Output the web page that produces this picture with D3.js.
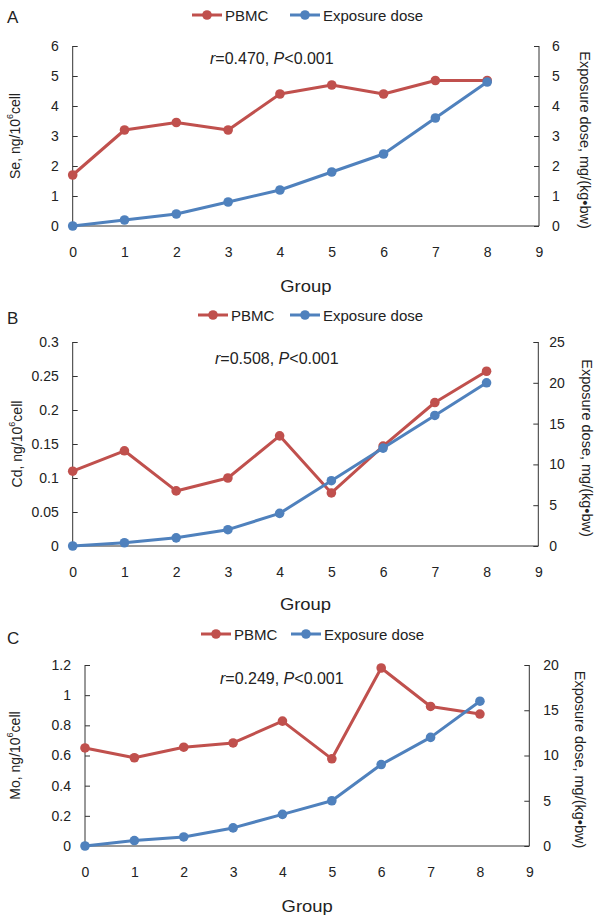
<!DOCTYPE html>
<html>
<head>
<meta charset="utf-8">
<script src="https://cdnjs.cloudflare.com/ajax/libs/d3/7.8.5/d3.min.js"></script>
<style>
  body { margin: 0; background: #fff; }
  svg text { font-family: Arial, "Liberation Sans", sans-serif; fill: #222; }
</style>
</head>
<body>
<div id="chart"></div>
<script>
// ---- data ----
var groups = [0, 1, 2, 3, 4, 5, 6, 7, 8];
var groupTicks = [0, 1, 2, 3, 4, 5, 6, 7, 8, 9];

var sePBMC = [1.7, 3.2, 3.45, 3.2, 4.4, 4.7, 4.4, 4.85, 4.85];
var seDose = [0, 0.2, 0.4, 0.8, 1.2, 1.8, 2.4, 3.6, 4.8];
var seLeftTicks = [0, 1, 2, 3, 4, 5, 6];
var seLeftLabels = ["0", "1", "2", "3", "4", "5", "6"];
var seRightTicks = [0, 1, 2, 3, 4, 5, 6];

var cdPBMC = [0.11, 0.14, 0.081, 0.1, 0.162, 0.078, 0.147, 0.211, 0.257];
var cdDose = [0, 0.4, 1, 2, 4, 8, 12, 16, 20];
var cdLeftTicks = [0, 0.05, 0.1, 0.15, 0.2, 0.25, 0.3];
var cdLeftLabels = ["0", "0.05", "0.1", "0.15", "0.2", "0.25", "0.3"];
var cdRightTicks = [0, 5, 10, 15, 20, 25];

var moPBMC = [0.65, 0.585, 0.655, 0.683, 0.828, 0.578, 1.18, 0.925, 0.875];
var moDose = [0, 0.6, 1, 2, 3.5, 5, 9, 12, 16];
var moLeftTicks = [0, 0.2, 0.4, 0.6, 0.8, 1, 1.2];
var moLeftLabels = ["0", "0.2", "0.4", "0.6", "0.8", "1", "1.2"];
var moRightTicks = [0, 5, 10, 15, 20];

var red = "#C0504D", blue = "#4F81BD";

var svg = d3.select("#chart").append("svg")
    .attr("width", 600).attr("height", 923);

function drawPanel(p) {
    var x = d3.scaleLinear().domain([0, 9]).range([p.left, p.right]);
    var yL = d3.scaleLinear().domain([0, d3.max(p.leftTicks)]).range([p.bottom, p.top]);
    var yR = d3.scaleLinear().domain([0, d3.max(p.rightTicks)]).range([p.bottom, p.top]);

    var g = svg.append("g");

    // panel letter
    g.append("text").attr("x", 7).attr("y", p.letterY)
        .attr("dominant-baseline", "central")
        .attr("font-size", "17px").text(p.letter);

    // left axis
    var la = g.append("g").attr("transform", "translate(" + p.left + ",0)")
        .call(d3.axisRight(yL).tickValues(p.leftTicks).tickSize(5)
            .tickFormat(function (d, i) { return p.leftLabels[i]; }));
    la.select(".domain").attr("d", "M0," + p.top + "V" + p.bottom);
    la.selectAll("text").attr("x", -14).attr("text-anchor", "end")
        .attr("font-size", "14px").attr("font-family", null);
    la.selectAll("line, path").attr("stroke", "#333");

    // right axis
    var ra = g.append("g").attr("transform", "translate(" + p.right + ",0)")
        .call(d3.axisLeft(yR).tickValues(p.rightTicks).tickSize(5)
            .tickFormat(d3.format("d")));
    ra.select(".domain").attr("d", "M0," + p.top + "V" + p.bottom);
    ra.selectAll("text").attr("x", p.rightLabelGap).attr("text-anchor", "start")
        .attr("font-size", "14px").attr("font-family", null);
    ra.selectAll("line, path").attr("stroke", "#333");

    // bottom axis (no tick marks)
    var ba = g.append("g").attr("transform", "translate(0," + p.bottom + ")")
        .call(d3.axisBottom(x).tickValues(groupTicks).tickSize(0).tickPadding(21));
    ba.select(".domain").attr("d", "M" + p.left + ",0H" + p.right).attr("stroke", "#333");
    ba.selectAll("text").attr("font-size", "14px").attr("font-family", null);

    // axis titles
    g.append("text")
        .attr("transform", "translate(" + (p.left + p.right) / 2 + "," + p.groupY + ") scale(1.15,1)")
        .attr("text-anchor", "middle").attr("dominant-baseline", "central")
        .attr("font-size", "16px").text("Group");

    var lt = g.append("text")
        .attr("transform", "translate(" + p.leftTitleX + "," + (p.top + p.bottom) / 2 + ") rotate(-90)")
        .attr("text-anchor", "middle").attr("dominant-baseline", "central")
        .attr("font-size", "14px");
    lt.append("tspan").text(p.element + ", ng/10");
    lt.append("tspan").attr("font-size", "9px").attr("dy", -5).text("6");
    lt.append("tspan").attr("dy", 5).text("cell");

    g.append("text")
        .attr("transform", "translate(" + p.rightTitleX + "," + ((p.top + p.bottom) / 2 + 4) + ") rotate(90)")
        .attr("text-anchor", "middle").attr("dominant-baseline", "central")
        .attr("font-size", "14.5px").text("Exposure dose, mg/(kg\u2022bw)");

    // correlation note
    var note = g.append("text").attr("x", p.noteX).attr("y", p.noteY)
        .attr("dominant-baseline", "central").attr("font-size", "16px");
    note.append("tspan").attr("font-style", "italic").text("r");
    note.append("tspan").text("=" + p.r + ", ");
    note.append("tspan").attr("font-style", "italic").text("P");
    note.append("tspan").text("<0.001");

    // series
    var series = [
        { vals: p.pbmc, y: yL, color: red },
        { vals: p.dose, y: yR, color: blue }
    ];
    series.forEach(function (s) {
        var line = d3.line()
            .x(function (d, i) { return x(groups[i]); })
            .y(function (d) { return s.y(d); });
        g.append("path").datum(s.vals)
            .attr("fill", "none").attr("stroke", s.color)
            .attr("stroke-width", 3).attr("stroke-linejoin", "round")
            .attr("d", line);
        g.selectAll(null).data(s.vals).enter().append("circle")
            .attr("cx", function (d, i) { return x(groups[i]); })
            .attr("cy", function (d) { return s.y(d); })
            .attr("r", 4.8).attr("fill", s.color);
    });

    // legend
    var legend = [
        { name: "PBMC", color: red, cx: p.legX1 },
        { name: "Exposure dose", color: blue, cx: p.legX2 }
    ];
    legend.forEach(function (l) {
        g.append("line").attr("x1", l.cx - 15).attr("x2", l.cx + 15)
            .attr("y1", p.legendY).attr("y2", p.legendY)
            .attr("stroke", l.color).attr("stroke-width", 3);
        g.append("circle").attr("cx", l.cx).attr("cy", p.legendY)
            .attr("r", 4.8).attr("fill", l.color);
        g.append("text").attr("x", l.cx + 18).attr("y", p.legendY)
            .attr("dominant-baseline", "central").attr("font-size", "15px")
            .text(l.name);
    });
}

drawPanel({
    letter: "A", letterY: 17, element: "Se", r: "0.470",
    left: 72.7, right: 539, top: 46, bottom: 226, groupY: 286,
    leftTicks: seLeftTicks, leftLabels: seLeftLabels, rightTicks: seRightTicks,
    pbmc: sePBMC, dose: seDose, rightLabelGap: 13,
    leftTitleX: 15, rightTitleX: 585,
    legendY: 15, legX1: 207, legX2: 305, noteX: 210, noteY: 58
});

drawPanel({
    letter: "B", letterY: 318, element: "Cd", r: "0.508",
    left: 72.7, right: 538.3, top: 342, bottom: 546, groupY: 604,
    leftTicks: cdLeftTicks, leftLabels: cdLeftLabels, rightTicks: cdRightTicks,
    pbmc: cdPBMC, dose: cdDose, rightLabelGap: 11,
    leftTitleX: 17, rightTitleX: 587,
    legendY: 315, legX1: 213, legX2: 305, noteX: 215, noteY: 358
});

drawPanel({
    letter: "C", letterY: 638, element: "Mo", r: "0.249",
    left: 85, right: 529.3, top: 665, bottom: 846, groupY: 906,
    leftTicks: moLeftTicks, leftLabels: moLeftLabels, rightTicks: moRightTicks,
    pbmc: moPBMC, dose: moDose, rightLabelGap: 14,
    leftTitleX: 15, rightTitleX: 580,
    legendY: 634, legX1: 216, legX2: 306, noteX: 220, noteY: 678
});
</script>
</body>
</html>
